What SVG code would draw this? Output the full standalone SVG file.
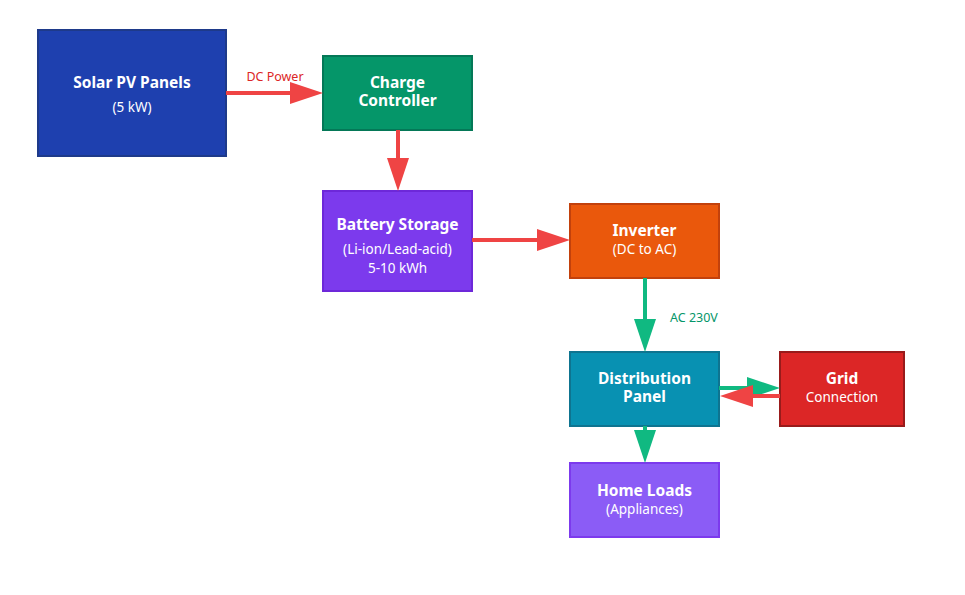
<svg xmlns="http://www.w3.org/2000/svg" width="965" height="595" viewBox="0 0 965 595">
<defs>
<marker id="hr" markerUnits="userSpaceOnUse" markerWidth="34" markerHeight="22" refX="0" refY="11" orient="auto" overflow="visible"><path d="M0,0 L33,11 L0,22 z" fill="#ef4444"/></marker>
<marker id="hg" markerUnits="userSpaceOnUse" markerWidth="34" markerHeight="22" refX="0" refY="11" orient="auto" overflow="visible"><path d="M0,0 L33,11 L0,22 z" fill="#10b981"/></marker>
</defs>
<style>
text{font-family:"Noto Sans","Open Sans","Liberation Sans",sans-serif;text-anchor:middle;fill:#fff}
.t{font-size:15.5px;font-weight:bold}
.s{font-size:13.5px}
.box{stroke-width:2}
.r{stroke:#ef4444;stroke-width:4;fill:none}
.g{stroke:#10b981;stroke-width:4;fill:none}
.lbl{font-size:12.5px}
</style>
<rect width="965" height="595" fill="#fff"/>
<g id="solar"><rect class="box" x="38" y="30" width="188" height="126" fill="#1e40af" stroke="#1e3a8a"/><text class="t" x="132" y="88">Solar PV Panels</text><text class="s" x="132" y="112">(5 kW)</text></g>
<g id="charge"><rect class="box" x="323" y="56" width="149" height="74" fill="#059669" stroke="#047857"/><text class="t" x="397.5" y="88">Charge</text><text class="t" x="397.5" y="106">Controller</text></g>
<g id="battery"><rect class="box" x="323" y="191" width="149" height="100" fill="#7c3aed" stroke="#6d28d9"/><text class="t" x="397.5" y="230">Battery Storage</text><text class="s" x="397.5" y="254">(Li-ion/Lead-acid)</text><text class="s" x="397.5" y="273">5-10 kWh</text></g>
<g id="inverter"><rect class="box" x="570" y="204" width="149" height="74" fill="#ea580c" stroke="#c2410c"/><text class="t" x="644.5" y="236">Inverter</text><text class="s" x="644.5" y="254">(DC to AC)</text></g>
<g id="distribution"><rect class="box" x="570" y="352" width="149" height="74" fill="#0891b2" stroke="#0e7490"/><text class="t" x="644.5" y="384">Distribution</text><text class="t" x="644.5" y="402">Panel</text></g>
<g id="grid"><rect class="box" x="780" y="352" width="124" height="74" fill="#dc2626" stroke="#991b1b"/><text class="t" x="842" y="384">Grid</text><text class="s" x="842" y="402">Connection</text></g>
<g id="loads"><rect class="box" x="570" y="463" width="149" height="74" fill="#8b5cf6" stroke="#7c3aed"/><text class="t" x="644.5" y="496">Home Loads</text><text class="s" x="644.5" y="514">(Appliances)</text></g>
<g id="connectors">
<line class="r" x1="226" y1="93" x2="290" y2="93" marker-end="url(#hr)"/>
<text class="lbl" x="275" y="81" style="fill:#dc2626">DC Power</text>
<line class="r" x1="398" y1="130" x2="398" y2="158" marker-end="url(#hr)"/>
<line class="r" x1="472" y1="240" x2="537" y2="240" marker-end="url(#hr)"/>
<line class="g" x1="645" y1="278" x2="645" y2="319" marker-end="url(#hg)"/>
<text class="lbl" x="670" y="322" style="fill:#059669;text-anchor:start">AC 230V</text>
<line class="g" x1="645" y1="426" x2="645" y2="430" marker-end="url(#hg)"/>
<line class="g" x1="719" y1="388" x2="747" y2="388" marker-end="url(#hg)"/>
<line class="r" x1="780" y1="396" x2="753" y2="396" marker-end="url(#hr)"/>
</g>
</svg>
